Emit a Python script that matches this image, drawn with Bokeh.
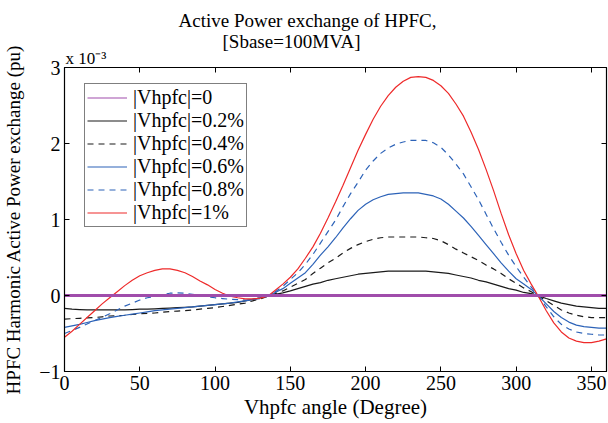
from bokeh.plotting import figure
from bokeh.models import (Range1d, LinearAxis, FixedTicker, Legend, LegendItem, Title)
from bokeh.embed import file_html
from bokeh.resources import INLINE

# ---- data (values in units of 1e-3 pu), every 5 degrees ----
angle = list(range(0, 361, 5))

v0 = [0.0] * len(angle)

v02 = [-0.17, -0.18, -0.185, -0.19, -0.19, -0.19, -0.19, -0.19, -0.19, -0.185,
       -0.18, -0.18, -0.175, -0.17, -0.165, -0.16, -0.155, -0.15, -0.14, -0.13,
       -0.12, -0.11, -0.10, -0.09, -0.07, -0.05, -0.03, -0.005,
       0.015, 0.035, 0.06, 0.09, 0.12, 0.15, 0.17, 0.20, 0.22, 0.24,
       0.26, 0.28, 0.29, 0.30, 0.31, 0.32, 0.32, 0.32, 0.32, 0.32,
       0.32, 0.31, 0.30, 0.29, 0.27, 0.25, 0.23, 0.20, 0.18, 0.15,
       0.12, 0.09, 0.07, 0.04, 0.025, -0.005, -0.04, -0.07, -0.10, -0.12,
       -0.14, -0.15, -0.16, -0.17, -0.17]

v04 = [-0.31, -0.305, -0.30, -0.295, -0.29, -0.28, -0.27, -0.265, -0.26, -0.25,
       -0.24, -0.235, -0.23, -0.22, -0.21, -0.205, -0.20, -0.19, -0.18, -0.17,
       -0.16, -0.145, -0.13, -0.115, -0.10, -0.07, -0.045, -0.01,
       0.025, 0.06, 0.11, 0.16, 0.21, 0.29, 0.36, 0.43, 0.49, 0.56,
       0.62, 0.67, 0.71, 0.74, 0.76, 0.77, 0.77, 0.77, 0.77, 0.77,
       0.76, 0.75, 0.72, 0.67, 0.61, 0.56, 0.51, 0.46, 0.40, 0.35,
       0.29, 0.22, 0.16, 0.10, 0.05, -0.01, -0.07, -0.13, -0.19, -0.23,
       -0.26, -0.28, -0.29, -0.29, -0.29]

v06 = [-0.42, -0.40, -0.38, -0.355, -0.33, -0.31, -0.29, -0.275, -0.26, -0.245,
       -0.23, -0.215, -0.20, -0.19, -0.18, -0.17, -0.16, -0.15, -0.14, -0.13,
       -0.12, -0.11, -0.10, -0.085, -0.07, -0.05, -0.03, -0.005,
       0.04, 0.09, 0.16, 0.23, 0.30, 0.41, 0.53, 0.64, 0.76, 0.89,
       1.01, 1.12, 1.20, 1.26, 1.30, 1.33, 1.34, 1.35, 1.35, 1.35,
       1.33, 1.31, 1.27, 1.20, 1.11, 1.02, 0.91, 0.79, 0.67, 0.55,
       0.43, 0.32, 0.22, 0.15, 0.08, -0.01, -0.11, -0.21, -0.29, -0.35,
       -0.39, -0.41, -0.42, -0.43, -0.43]

v08 = [-0.50, -0.46, -0.42, -0.375, -0.33, -0.285, -0.24, -0.19, -0.14, -0.10,
       -0.06, -0.03, -0.01, 0.015, 0.03, 0.035, 0.03, 0.015, 0.00, -0.015,
       -0.03, -0.04, -0.05, -0.055, -0.06, -0.055, -0.04, -0.01,
       0.05, 0.12, 0.21, 0.30, 0.41, 0.54, 0.69, 0.84, 0.99, 1.17,
       1.34, 1.49, 1.65, 1.77, 1.87, 1.94, 1.99, 2.02, 2.04, 2.04,
       2.04, 2.01, 1.95, 1.85, 1.73, 1.60, 1.43, 1.26, 1.07, 0.88,
       0.70, 0.53, 0.38, 0.24, 0.11, -0.015, -0.15, -0.28, -0.38, -0.44,
       -0.48, -0.50, -0.51, -0.52, -0.52]

v10 = [-0.55, -0.47, -0.38, -0.29, -0.20, -0.11, -0.03, 0.05, 0.13, 0.20,
       0.26, 0.30, 0.33, 0.35, 0.35, 0.33, 0.30, 0.25, 0.19, 0.14,
       0.08, 0.03, -0.01, -0.03, -0.045, -0.045, -0.035, -0.01,
       0.07, 0.15, 0.24, 0.35, 0.49, 0.64, 0.82, 1.02, 1.23, 1.45,
       1.68, 1.91, 2.12, 2.32, 2.49, 2.63, 2.74, 2.82, 2.87, 2.88,
       2.87, 2.83, 2.76, 2.66, 2.52, 2.36, 2.15, 1.92, 1.66, 1.38,
       1.08, 0.80, 0.55, 0.33, 0.15, -0.02, -0.20, -0.36, -0.48, -0.56,
       -0.60, -0.62, -0.62, -0.60, -0.57]

labels = ["|Vhpfc|=0", "|Vhpfc|=0.2%", "|Vhpfc|=0.4%",
          "|Vhpfc|=0.6%", "|Vhpfc|=0.8%", "|Vhpfc|=1%"]

xticks = [0, 50, 100, 150, 200, 250, 300, 350]
yticks = [-1, 0, 1, 2, 3]

title_1 = "Active Power exchange of HPFC,"
title_2 = "[Sbase=100MVA]"
scale_note = "x 10\u207b\u00b3"
x_label = "Vhpfc angle (Degree)"
y_label = "HPFC Harmonic Active Power exchange (pu)"

FONT = "Liberation Serif"
PURPLE = "#a04dab"
BLACK = "#1a1a1a"
BLUE = "#2d63b8"
RED = "#ee2a2a"

p = figure(width=608, height=423, x_range=Range1d(0, 360), y_range=Range1d(-1, 3),
           output_backend="svg", toolbar_location=None,
           min_border_left=62, min_border_right=2, min_border_top=67, min_border_bottom=52)
p.title = None
p.grid.visible = False
p.outline_line_color = "black"
p.background_fill_color = "white"
p.border_fill_color = "white"


def style_axis(ax, show_labels):
    ax.axis_line_color = "black"
    ax.axis_line_width = 1.2
    ax.major_tick_in = 5
    ax.major_tick_out = 0
    ax.major_tick_line_color = "black"
    ax.minor_tick_line_color = None
    ax.major_label_text_font = FONT
    if show_labels:
        ax.major_label_text_font_size = "20px"
        ax.major_label_text_color = "black"
        ax.major_label_standoff = 4
    else:
        ax.major_label_text_font_size = "1px"
        ax.major_label_text_color = None
        ax.major_label_standoff = 0


p.xaxis.ticker = FixedTicker(ticks=xticks)
p.yaxis.ticker = FixedTicker(ticks=yticks)
style_axis(p.xaxis[0], True)
style_axis(p.yaxis[0], True)
p.yaxis.major_label_standoff = 4

p.xaxis.axis_label = x_label
p.xaxis.axis_label_text_font = FONT
p.xaxis.axis_label_text_font_size = "21px"
p.xaxis.axis_label_text_font_style = "normal"
p.xaxis.axis_label_text_color = "black"
p.xaxis.axis_label_standoff = 2

p.yaxis.axis_label = y_label
p.yaxis.axis_label_text_font = FONT
p.yaxis.axis_label_text_font_size = "19px"
p.yaxis.axis_label_text_font_style = "normal"
p.yaxis.axis_label_text_color = "black"
p.yaxis.axis_label_standoff = 12

ax_top = LinearAxis(ticker=FixedTicker(ticks=xticks))
style_axis(ax_top, False)
p.add_layout(ax_top, "above")
ax_right = LinearAxis(ticker=FixedTicker(ticks=yticks))
style_axis(ax_right, False)
p.add_layout(ax_right, "right")


def make_title(text, offset, size, standoff):
    t = Title(text=text, align="left", offset=offset, text_font=FONT,
              text_font_size=size, text_font_style="normal", text_color="black")
    try:
        t.standoff = standoff
    except ValueError:
        t.standoff = 0
    return t


# titles stacked above (first added = closest to the frame)
p.add_layout(make_title(scale_note, 1, "17px", 0), "above")
p.add_layout(make_title(title_2, 158, "19px", -10), "above")
p.add_layout(make_title(title_1, 114, "19px", 6), "above")

# curves
r02 = p.line(angle, v02, line_color=BLACK, line_width=1.2)
r04 = p.line(angle, v04, line_color=BLACK, line_width=1.2, line_dash="6 5")
r06 = p.line(angle, v06, line_color=BLUE, line_width=1.2)
r08 = p.line(angle, v08, line_color=BLUE, line_width=1.2, line_dash="6 5")
r10 = p.line(angle, v10, line_color=RED, line_width=1.2)
p.line(angle, v0, line_color=PURPLE, line_width=3)
r0 = p.line(angle, v0, line_color=PURPLE, line_width=1.2)

legend = Legend(items=[
    LegendItem(label=labels[0], renderers=[r0]),
    LegendItem(label=labels[1], renderers=[r02]),
    LegendItem(label=labels[2], renderers=[r04]),
    LegendItem(label=labels[3], renderers=[r06]),
    LegendItem(label=labels[4], renderers=[r08]),
    LegendItem(label=labels[5], renderers=[r10]),
], location=(20, 144))
legend.label_text_font = FONT
legend.label_text_font_size = "20px"
legend.label_text_color = "black"
legend.glyph_width = 40
legend.glyph_height = 21
legend.label_height = 21
legend.spacing = 0
legend.padding = 2
legend.margin = 0
legend.label_standoff = 6
legend.border_line_color = "black"
legend.border_line_width = 1
legend.background_fill_alpha = 1.0
p.add_layout(legend, "center")

open("out.html", "w").write(file_html(p, INLINE))
